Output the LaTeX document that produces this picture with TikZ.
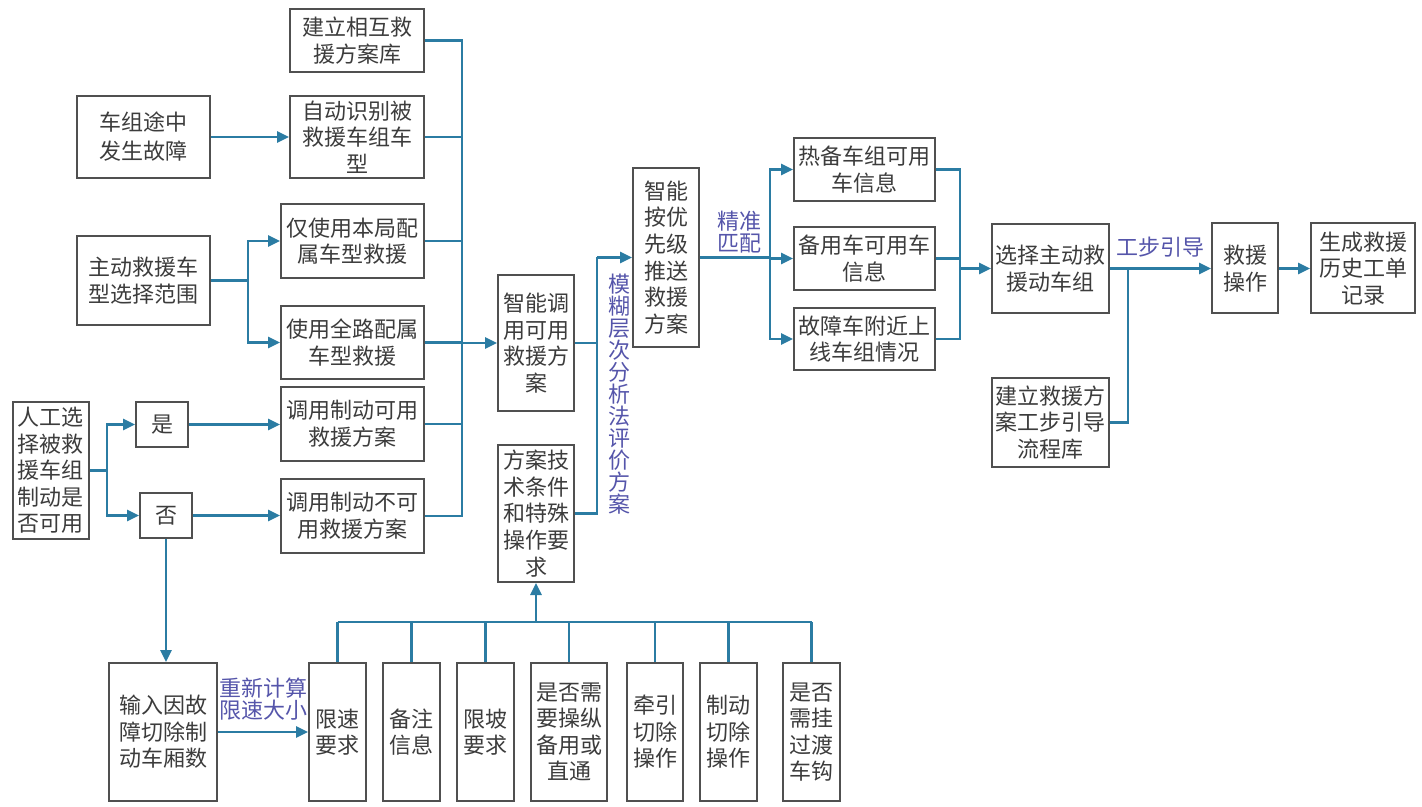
\documentclass[tikz,border=0pt]{standalone}
\usepackage{fontspec}
\newfontfamily\cjk{Noto Sans CJK SC}
\usetikzlibrary{arrows.meta}
\definecolor{lineblue}{RGB}{43,124,163}
\definecolor{lblcol}{RGB}{85,85,170}
\definecolor{boxcol}{RGB}{80,80,80}
\definecolor{txtcol}{RGB}{60,60,60}
\begin{document}
\begin{tikzpicture}[x=0.5pt,y=-0.5pt,
 box/.style={draw=boxcol, line width=1pt, inner sep=0pt, align=center, font=\cjk\fontsize{11}{13.3}\selectfont, text=txtcol},
 wh/.style 2 args={minimum width=#1*0.5pt, minimum height=#2*0.5pt},
 conn/.style={draw=lineblue, line width=1.3pt},
 arr/.style={conn, -{Triangle[length=6pt,width=5.5pt]}},
 lbl/.style={text=lblcol, font=\cjk\fontsize{11}{11}\selectfont, align=center, inner sep=0pt}]
\useasboundingbox (0,0) rectangle (1422,807);

% left column boxes
\node[box, wh={134}{63}] (jl) at (357,40.5) {建立相互救\\援方案库};
\node[box, wh={133}{82}, font=\cjk\fontsize{11}{14.5}\selectfont] (cz) at (143.5,137) {车组途中\\发生故障};
\node[box, wh={134}{82}] (zd) at (357,137) {自动识别被\\救援车组车\\型};
\node[box, wh={133}{89}] (zdjy) at (143.5,280.5) {主动救援车\\型选择范围};
\node[box, wh={143}{74}] (jsy) at (352.5,241) {仅使用本局配\\属车型救援};
\node[box, wh={143}{73}] (qlu) at (352.5,342.5) {使用全路配属\\车型救援};
\node[box, wh={76}{137}] (rg) at (51,470.5) {人工选\\择被救\\援车组\\制动是\\否可用};
\node[box, wh={52}{45}] (yes) at (162,424.5) {是};
\node[box, wh={52}{45}] (no) at (166,515.5) {否};
\node[box, wh={143}{74}] (dky) at (352.5,424) {调用制动可用\\救援方案};
\node[box, wh={143}{74}] (dbk) at (352.5,516) {调用制动不可\\用救援方案};
\node[box, wh={108}{138}] (srg) at (163,732) {输入因故\\障切除制\\动车厢数};

% bottom row
\node[box, wh={57}{138}] (xs) at (337.5,732) {限速\\要求};
\node[box, wh={57}{138}] (bz) at (411.5,732) {备注\\信息};
\node[box, wh={57}{138}] (xp) at (485.5,732) {限坡\\要求};
\node[box, wh={76}{138}] (sf) at (569,732) {是否需\\要操纵\\备用或\\直通};
\node[box, wh={56}{138}] (qy) at (655,732) {牵引\\切除\\操作};
\node[box, wh={57}{138}] (zdq) at (728.5,732) {制动\\切除\\操作};
\node[box, wh={57}{138}] (gd) at (811.5,732) {是否\\需挂\\过渡\\车钩};

% middle
\node[box, wh={76}{136}] (zndy) at (536,343) {智能调\\用可用\\救援方\\案};
\node[box, wh={76}{137}] (fajs) at (536,513.5) {方案技\\术条件\\和特殊\\操作要\\求};
\node[box, wh={66}{179}] (znt) at (666,257.5) {智能\\按优\\先级\\推送\\救援\\方案};

% right
\node[box, wh={141}{63}] (rb) at (864.5,169.5) {热备车组可用\\车信息};
\node[box, wh={141}{63}] (by) at (864.5,258.5) {备用车可用车\\信息};
\node[box, wh={141}{62}] (gz) at (864.5,339) {故障车附近上\\线车组情况};
\node[box, wh={117}{89}] (xz) at (1050.5,268.5) {选择主动救\\援动车组};
\node[box, wh={117}{89}] (jlgb) at (1050.5,422.5) {建立救援方\\案工步引导\\流程库};
\node[box, wh={66}{90}] (jycz) at (1245,268.5) {救援\\操作};
\node[box, wh={104}{90}] (sc) at (1363,268.5) {生成救援\\历史工单\\记录};

% labels
\node[lbl] (l1) at (263.5,699) {重新计算\\限速大小};
\node[lbl] (l2) at (619,394.5) {模\\糊\\层\\次\\分\\析\\法\\评\\价\\方\\案};
\node[lbl] (l3) at (739,232.5) {精准\\匹配};
\node[lbl] (l4) at (1160,247) {工步引导};

% connectors: left
\draw[arr] (cz) -- (zd);
\coordinate (b1) at (248,280.5);
\draw[conn] (zdjy.east) -- (b1);
\draw[arr] (b1) |- (jsy.west);
\draw[arr] (b1) |- (qlu.west);

\coordinate (b2) at (107,470.5);
\draw[conn] (rg.east) -- (b2);
\draw[arr] (b2) |- (yes.west);
\draw[arr] (b2) |- (no.west);
\draw[arr] (yes.east) -- (yes.east -| dky.west);
\draw[arr] (no.east) -- (no.east -| dbk.west);
\draw[arr] (no.south) -- (no.south |- srg.north);
\draw[arr] (srg.east) -- (srg.east -| xs.west);

% left bus
\coordinate (busTop) at (462,40.5);
\coordinate (busBot) at (462,516);
\draw[conn] (jl.east) -- (busTop) -- (busBot) -- (dbk.east);
\draw[conn] (zd.east) -- (zd.east -| busTop);
\draw[conn] (jsy.east) -- (jsy.east -| busTop);
\draw[conn] (qlu.east) -- (qlu.east -| busTop);
\draw[conn] (dky.east) -- (dky.east -| busTop);
\draw[arr] (zndy.west -| busTop) -- (zndy.west);

% bottom bus
\coordinate (busB) at (536,622);
\draw[conn] (xs.north |- busB) -- (gd.north |- busB);
\foreach \n in {xs,bz,xp,sf,qy,zdq,gd}{\draw[conn] (\n.north) -- (\n.north |- busB);}
\draw[arr] (busB) -- (fajs.south);

% middle
\coordinate (m) at (597,257.5);
\draw[conn] (zndy.east) -- (zndy.east -| m);
\draw[conn] (fajs.east) -| (m);
\draw[arr] (m) -- (znt.west);

% right
\coordinate (r1) at (770,257.5);
\draw[conn] (znt.east) -- (r1);
\draw[arr] (r1) |- (rb.west);
\draw[arr] (r1) |- (by.west);
\draw[arr] (r1) |- (gz.west);
\coordinate (r2) at (960,268.5);
\draw[conn] (rb.east) -| (r2);
\draw[conn] (gz.east) -| (r2);
\draw[conn] (by.east) -- (by.east -| r2);
\draw[arr] (r2) -- (xz.west);

\coordinate (r3) at (1128,268.5);
\draw[arr] (xz.east) -- (jycz.west);
\draw[conn] (jlgb.east) -| (r3);
\draw[arr] (jycz.east) -- (sc.west);
\end{tikzpicture}
\end{document}
